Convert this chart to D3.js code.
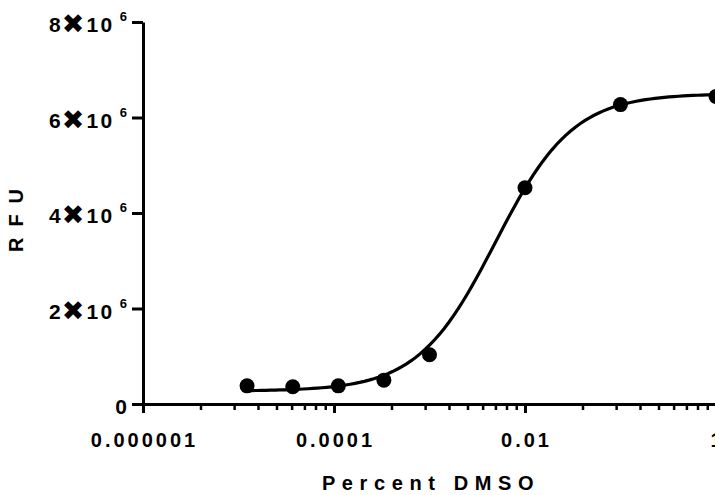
<!DOCTYPE html>
<html>
<head>
<meta charset="utf-8">
<script src="https://cdn.jsdelivr.net/npm/d3@7"></script>
<style>
  html, body { margin: 0; padding: 0; background: #fff; }
  svg { display: block; }
  text { font-family: "Liberation Sans", Arial, "DejaVu Sans", sans-serif; font-weight: bold; fill: #000; }
</style>
</head>
<body>
<svg id="chart"></svg>
<script>
// dilution series, percent DMSO
const dmso = [0.0000123, 0.000037, 0.000111, 0.000333, 0.001, 0.01, 0.1, 1];
const rfu = [0.38e6, 0.36e6, 0.38e6, 0.50e6, 1.03e6, 4.53e6, 6.27e6, 6.44e6];

// 4PL fit shown as the line
const fitBottom = 0.27e6;
const fitTop = 6.5e6;
const fitLogEC50 = -2.31;
const fitHill = 1.07;

const xMajor = [1e-6, 1e-4, 1e-2, 1];
const xMajorLabels = ['0.000001', '0.0001', '0.01', '1'];
const xMinorMult = [4, 9, 16, 25, 36, 49, 64, 81];
const yTicks = [0, 2e6, 4e6, 6e6, 8e6];

const width = 715, height = 495;

const svg = d3.select('#chart')
  .attr('width', width)
  .attr('height', height);

const x = d3.scaleLog()
  .domain([1e-6, 1])
  .range([143, 716]);

const y = d3.scaleLinear()
  .domain([0, 8e6])
  .range([404, 22]);

// x axis: minor ticks first, then majors
const minorVals = [];
for (let i = 0; i < xMajor.length - 1; i++)
  for (let m of xMinorMult) minorVals.push(xMajor[i] * m);

const xMinorAxis = svg.append('g')
  .attr('transform', `translate(0,${y(0)})`)
  .call(d3.axisBottom(x).tickValues(minorVals).tickFormat('').tickSize(6).tickSizeOuter(0));

const xAxis = svg.append('g')
  .attr('transform', `translate(0,${y(0)})`)
  .call(d3.axisBottom(x).tickValues(xMajor).tickFormat('').tickSize(9).tickSizeOuter(0));

const yAxis = svg.append('g')
  .attr('transform', `translate(${x(1e-6)},0)`)
  .call(d3.axisLeft(y).tickValues(yTicks).tickFormat('').tickSize(11).tickSizeOuter(0));

svg.selectAll('.domain, .tick line')
  .attr('stroke', '#000')
  .attr('stroke-width', 3);
xMinorAxis.select('.domain').remove();
xMinorAxis.selectAll('.tick line').attr('stroke-width', 2.5);

// x tick labels
svg.append('g').selectAll('text')
  .data(xMajor)
  .enter().append('text')
  .attr('x', d => x(d) + 1.5)
  .attr('y', 447)
  .attr('text-anchor', 'middle')
  .attr('font-size', 20)
  .attr('letter-spacing', 3)
  .text((d, i) => xMajorLabels[i]);

// y tick labels, "n✖10^6"
const yl = svg.append('g').selectAll('text')
  .data(yTicks)
  .enter().append('text')
  .attr('x', 127)
  .attr('y', d => y(d) + 10)
  .attr('text-anchor', 'end')
  .attr('font-size', 21);

yl.filter(d => d === 0).text('0');
yl.filter(d => d !== 0).each(function (d) {
  const t = d3.select(this);
  t.append('tspan').text(d / 1e6);
  t.append('tspan').attr('font-size', 27).attr('dx', 1).attr('dy', 1).attr('font-family', '"DejaVu Sans", sans-serif').text('\u2716');
  t.append('tspan').attr('letter-spacing', 2.5).attr('dx', 2).attr('dy', -1).text('10');
  t.append('tspan').attr('font-size', 13).attr('dx', 5).attr('dy', -11).text('6');
});

// axis titles
svg.append('text')
  .attr('x', 431)
  .attr('y', 490)
  .attr('text-anchor', 'middle')
  .attr('font-size', 20)
  .attr('letter-spacing', 6.6)
  .text('Percent DMSO');

svg.append('text')
  .attr('transform', `translate(23,${220 - 5})rotate(-90)`)
  .attr('text-anchor', 'middle')
  .attr('font-size', 20)
  .attr('letter-spacing', 11)
  .text('RFU');

// fitted curve
const lx = d3.range(0, 101).map(i => {
  const a = Math.log10(dmso[0]), b = Math.log10(dmso[dmso.length - 1]);
  return a + (b - a) * i / 100;
});
const curve = lx.map(l => [Math.pow(10, l),
  fitBottom + (fitTop - fitBottom) / (1 + Math.pow(10, (fitLogEC50 - l) * fitHill))]);

svg.append('path')
  .datum(curve)
  .attr('fill', 'none')
  .attr('stroke', '#000')
  .attr('stroke-width', 3.2)
  .attr('d', d3.line().x(d => x(d[0])).y(d => y(d[1])));

// points
svg.append('g').selectAll('circle')
  .data(dmso)
  .enter().append('circle')
  .attr('cx', d => x(d))
  .attr('cy', (d, i) => y(rfu[i]))
  .attr('r', 7.5)
  .attr('fill', '#000');
</script>
</body>
</html>
